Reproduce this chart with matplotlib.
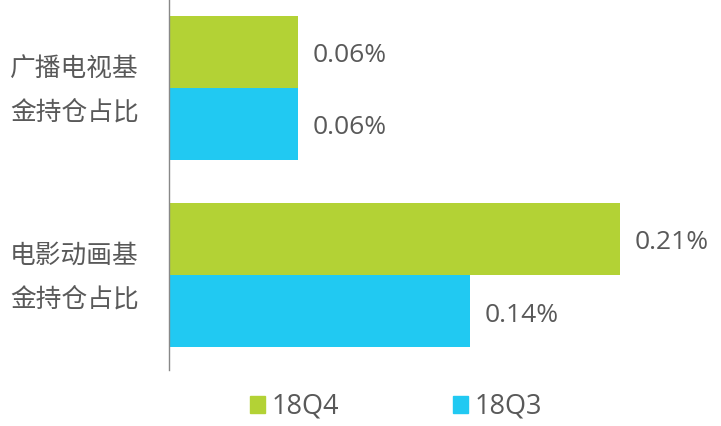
import matplotlib.pyplot as plt
import numpy as np

plt.rcParams["font.family"] = ["Noto Sans CJK SC", "DejaVu Sans"]

categories = ["广播电视基\n金持仓占比", "电影动画基\n金持仓占比"]
series_names = ["18Q4", "18Q3"]
values_q4 = [0.06, 0.21]
values_q3 = [0.06, 0.14]
colors = {"18Q4": "#B3D235", "18Q3": "#21C9F2"}
text_color = "#595959"
num_font = ["Open Sans", "DejaVu Sans"]

fig = plt.figure(figsize=(7.21, 4.26), dpi=100)
ax = fig.add_axes([169 / 721, 1 - 370 / 426, 552 / 721, 370 / 426])

y = np.arange(len(categories))
h = 72 / 187
ax.barh(y - h / 2, values_q4, height=h, color=colors["18Q4"], label="18Q4")
ax.barh(y + h / 2, values_q3, height=h, color=colors["18Q3"], label="18Q3")

# labels sit a few pixels below the bar centre in the original
dy = 4 / 187
for yi, v in zip(y, values_q4):
    ax.text(v + 0.007, yi - h / 2 + dy, f"{v:.2f}%", va="center", ha="left",
            fontsize=19, color=text_color, family=num_font)
for yi, v in zip(y, values_q3):
    ax.text(v + 0.007, yi + h / 2 + dy, f"{v:.2f}%", va="center", ha="left",
            fontsize=19, color=text_color, family=num_font)

ax.set_xlim(0, 0.257)
ax.set_ylim(1 + 95 / 187, -88 / 187)
ax.set_xticks([])
ax.set_yticks([])
for s in ["top", "right", "bottom"]:
    ax.spines[s].set_visible(False)
ax.spines["left"].set_color("#888888")
ax.spines["left"].set_linewidth(1)

for yi, label in zip(y, categories):
    fig.text(10 / 721, 1 - (91 + yi * 187) / 426, label, ha="left", va="center",
             fontsize=18.5, color=text_color, linespacing=1.9)

handles = [plt.Rectangle((0, 0), 1, 1, color=colors[n]) for n in series_names]
fig.legend(handles, series_names, loc="center", bbox_to_anchor=(0.549, 1 - 407 / 426),
           ncol=2, frameon=False, handlelength=0.55, handleheight=0.55,
           handletextpad=0.25, columnspacing=4.2, labelcolor=text_color,
           prop={"family": num_font, "size": 19.5})

fig.savefig("out.png", dpi=100)
